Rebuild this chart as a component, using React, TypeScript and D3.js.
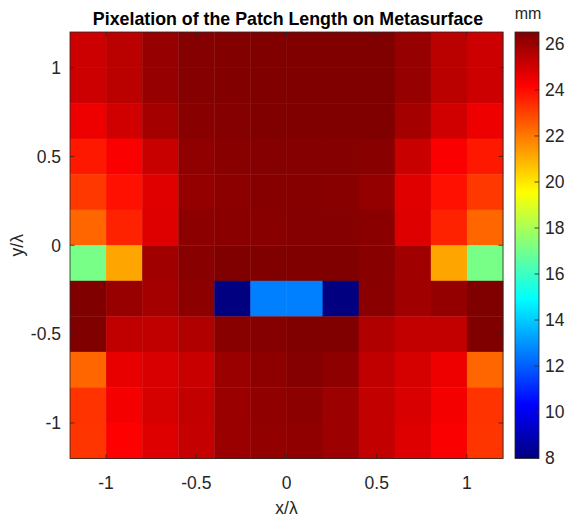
import React from "react";
import * as d3 from "d3";

// Cell centres (in wavelengths)
const xCenters = [-1.1, -0.9, -0.7, -0.5, -0.3, -0.1, 0.1, 0.3, 0.5, 0.7, 0.9, 1.1];
const yCenters = [1.1, 0.9, 0.7, 0.5, 0.3, 0.1, -0.1, -0.3, -0.5, -0.7, -0.9, -1.1];

// Patch length (mm), rows from top (y = 1.1) to bottom (y = -1.1)
const row0 = [25.13, 25.44, 26.11, 26.42, 26.46, 26.51, 26.52, 26.52, 26.51, 26.11, 25.44, 25.13];
const row1 = [25.13, 25.44, 26.11, 26.42, 26.46, 26.52, 26.52, 26.52, 26.51, 26.11, 25.44, 25.13];
const row2 = [24.52, 25.06, 25.83, 26.37, 26.42, 26.51, 26.51, 26.51, 26.51, 25.83, 25.06, 24.52];
const row3 = [23.77, 24.3, 25.2, 26.22, 26.35, 26.42, 26.42, 26.42, 26.35, 25.2, 24.3, 23.77];
const row4 = [23.18, 23.91, 24.77, 26.15, 26.3, 26.4, 26.4, 26.35, 26.15, 24.77, 23.91, 23.18];
const row5 = [22.35, 23.59, 24.81, 26.3, 26.33, 26.37, 26.42, 26.42, 26.33, 24.81, 23.59, 22.35];
const row6 = [17.1, 21.2, 25.93, 26.37, 26.51, 26.51, 26.51, 26.51, 26.37, 25.93, 21.2, 17.1];
const row7 = [26.52, 26.07, 25.83, 26.3, 7.98, 12.62, 12.62, 7.98, 26.33, 25.93, 26.15, 26.52];
const row8 = [26.52, 25.35, 25.35, 25.64, 26.37, 26.42, 26.51, 26.51, 25.64, 25.3, 25.3, 26.52];
const row9 = [22.35, 24.62, 24.91, 25.2, 26.04, 26.25, 26.42, 26.25, 25.35, 24.96, 24.52, 22.35];
const row10 = [23.28, 24.39, 24.96, 25.3, 26.02, 26.22, 26.27, 25.98, 25.3, 24.91, 24.39, 23.28];
const row11 = [23.24, 24.2, 24.81, 25.25, 26.04, 26.18, 26.22, 25.98, 25.3, 24.81, 24.3, 23.24];
const values = [row0, row1, row2, row3, row4, row5, row6, row7, row8, row9, row10, row11];

const xTicks = [-1, -0.5, 0, 0.5, 1];
const yTicks = [-1, -0.5, 0, 0.5, 1];
const cbTicks = [8, 10, 12, 14, 16, 18, 20, 22, 24, 26];

const titleText = "Pixelation of the Patch Length on Metasurface";
const unitText = "mm";

const W = 566;
const H = 522;
const plot = { left: 70, right: 503, top: 32, bottom: 458.5 };
const cb = { left: 515, right: 539 };
const CELL = 0.2;
const axisColor = "#262626";
const font = "'Liberation Sans', Arial, Helvetica, sans-serif";

function jet(t: number): string {
  const c = (v: number) => Math.max(0, Math.min(1, v));
  const r = c(1.5 - Math.abs(4 * t - 3));
  const g = c(1.5 - Math.abs(4 * t - 2));
  const b = c(1.5 - Math.abs(4 * t - 1));
  return d3.rgb(r * 255, g * 255, b * 255).formatHex();
}

export default function App() {
  const flat = values.flat();
  const [vmin, vmax] = d3.extent(flat) as [number, number];
  const x = d3.scaleLinear().domain([-1.2, 1.2]).range([plot.left, plot.right]);
  const y = d3.scaleLinear().domain([-1.2, 1.2]).range([plot.bottom, plot.top]);
  const cScale = d3.scaleLinear().domain([vmin, vmax]).range([0, 1]).clamp(true);
  const cbY = d3.scaleLinear().domain([vmin, vmax]).range([plot.bottom, plot.top]);

  const nStops = 64;
  const stops = d3.range(nStops + 1).map((i) => i / nStops);
  const tickLen = 4.5;

  return (
    <svg
      width={W}
      height={H}
      style={{ position: "absolute", left: 0, top: 0, background: "#fff" }}
      fontFamily={font}
    >
      <defs>
        <linearGradient id="jetgrad" x1="0" y1="1" x2="0" y2="0">
          {stops.map((s) => (
            <stop key={s} offset={s} stopColor={jet(s)} />
          ))}
        </linearGradient>
      </defs>

      {/* heatmap cells */}
      {values.map((row, ri) =>
        row.map((v, ci) => {
          const cx = xCenters[ci];
          const cy = yCenters[ri];
          const x0 = x(cx - CELL / 2);
          const x1 = x(cx + CELL / 2);
          const y0 = y(cy + CELL / 2);
          const y1 = y(cy - CELL / 2);
          return (
            <rect
              key={`${ri}-${ci}`}
              x={x0}
              y={y0}
              width={x1 - x0 + 0.4}
              height={y1 - y0 + 0.4}
              fill={jet(cScale(v))}
            />
          );
        })
      )}

      {/* axes box */}
      <rect
        x={plot.left}
        y={plot.top}
        width={plot.right - plot.left}
        height={plot.bottom - plot.top}
        fill="none"
        stroke={axisColor}
        strokeWidth={0.8}
      />
      {xTicks.map((t) => (
        <g key={`xt${t}`}>
          <line x1={x(t)} x2={x(t)} y1={plot.bottom} y2={plot.bottom - tickLen} stroke={axisColor} strokeWidth={0.8} />
          <line x1={x(t)} x2={x(t)} y1={plot.top} y2={plot.top + tickLen} stroke={axisColor} strokeWidth={0.8} />
          <text x={x(t)} y={489} textAnchor="middle" fontSize={17.5} fill={axisColor}>
            {t === 0 ? "0" : String(t)}
          </text>
        </g>
      ))}
      {yTicks.map((t) => (
        <g key={`yt${t}`}>
          <line x1={plot.left} x2={plot.left + tickLen} y1={y(t)} y2={y(t)} stroke={axisColor} strokeWidth={0.8} />
          <line x1={plot.right} x2={plot.right - tickLen} y1={y(t)} y2={y(t)} stroke={axisColor} strokeWidth={0.8} />
          <text x={61} y={y(t)} dy="0.36em" textAnchor="end" fontSize={17.5} fill={axisColor}>
            {String(t)}
          </text>
        </g>
      ))}

      {/* axis labels */}
      <text x={(plot.left + plot.right) / 2} y={514} textAnchor="middle" fontSize={17.5} fill={axisColor}>
        x/λ
      </text>
      <text
        transform={`translate(23, ${(plot.top + plot.bottom) / 2}) rotate(-90)`}
        textAnchor="middle"
        fontSize={17.5}
        fill={axisColor}
      >
        y/λ
      </text>

      {/* title */}
      <text x={288} y={25} textAnchor="middle" fontSize={17.8} fontWeight="bold" fill="#000">
        {titleText}
      </text>

      {/* colorbar */}
      <rect
        x={cb.left}
        y={plot.top}
        width={cb.right - cb.left}
        height={plot.bottom - plot.top}
        fill="url(#jetgrad)"
        stroke={axisColor}
        strokeWidth={0.8}
      />
      {cbTicks.map((t) => (
        <g key={`cb${t}`}>
          <line x1={cb.right} x2={cb.right - tickLen} y1={cbY(t)} y2={cbY(t)} stroke={axisColor} strokeWidth={0.8} />
          <text x={545} y={cbY(t)} dy="0.36em" fontSize={17.5} fill={axisColor}>
            {t}
          </text>
        </g>
      ))}
      <text x={528} y={19} textAnchor="middle" fontSize={16} fill={axisColor}>
        {unitText}
      </text>
    </svg>
  );
}
